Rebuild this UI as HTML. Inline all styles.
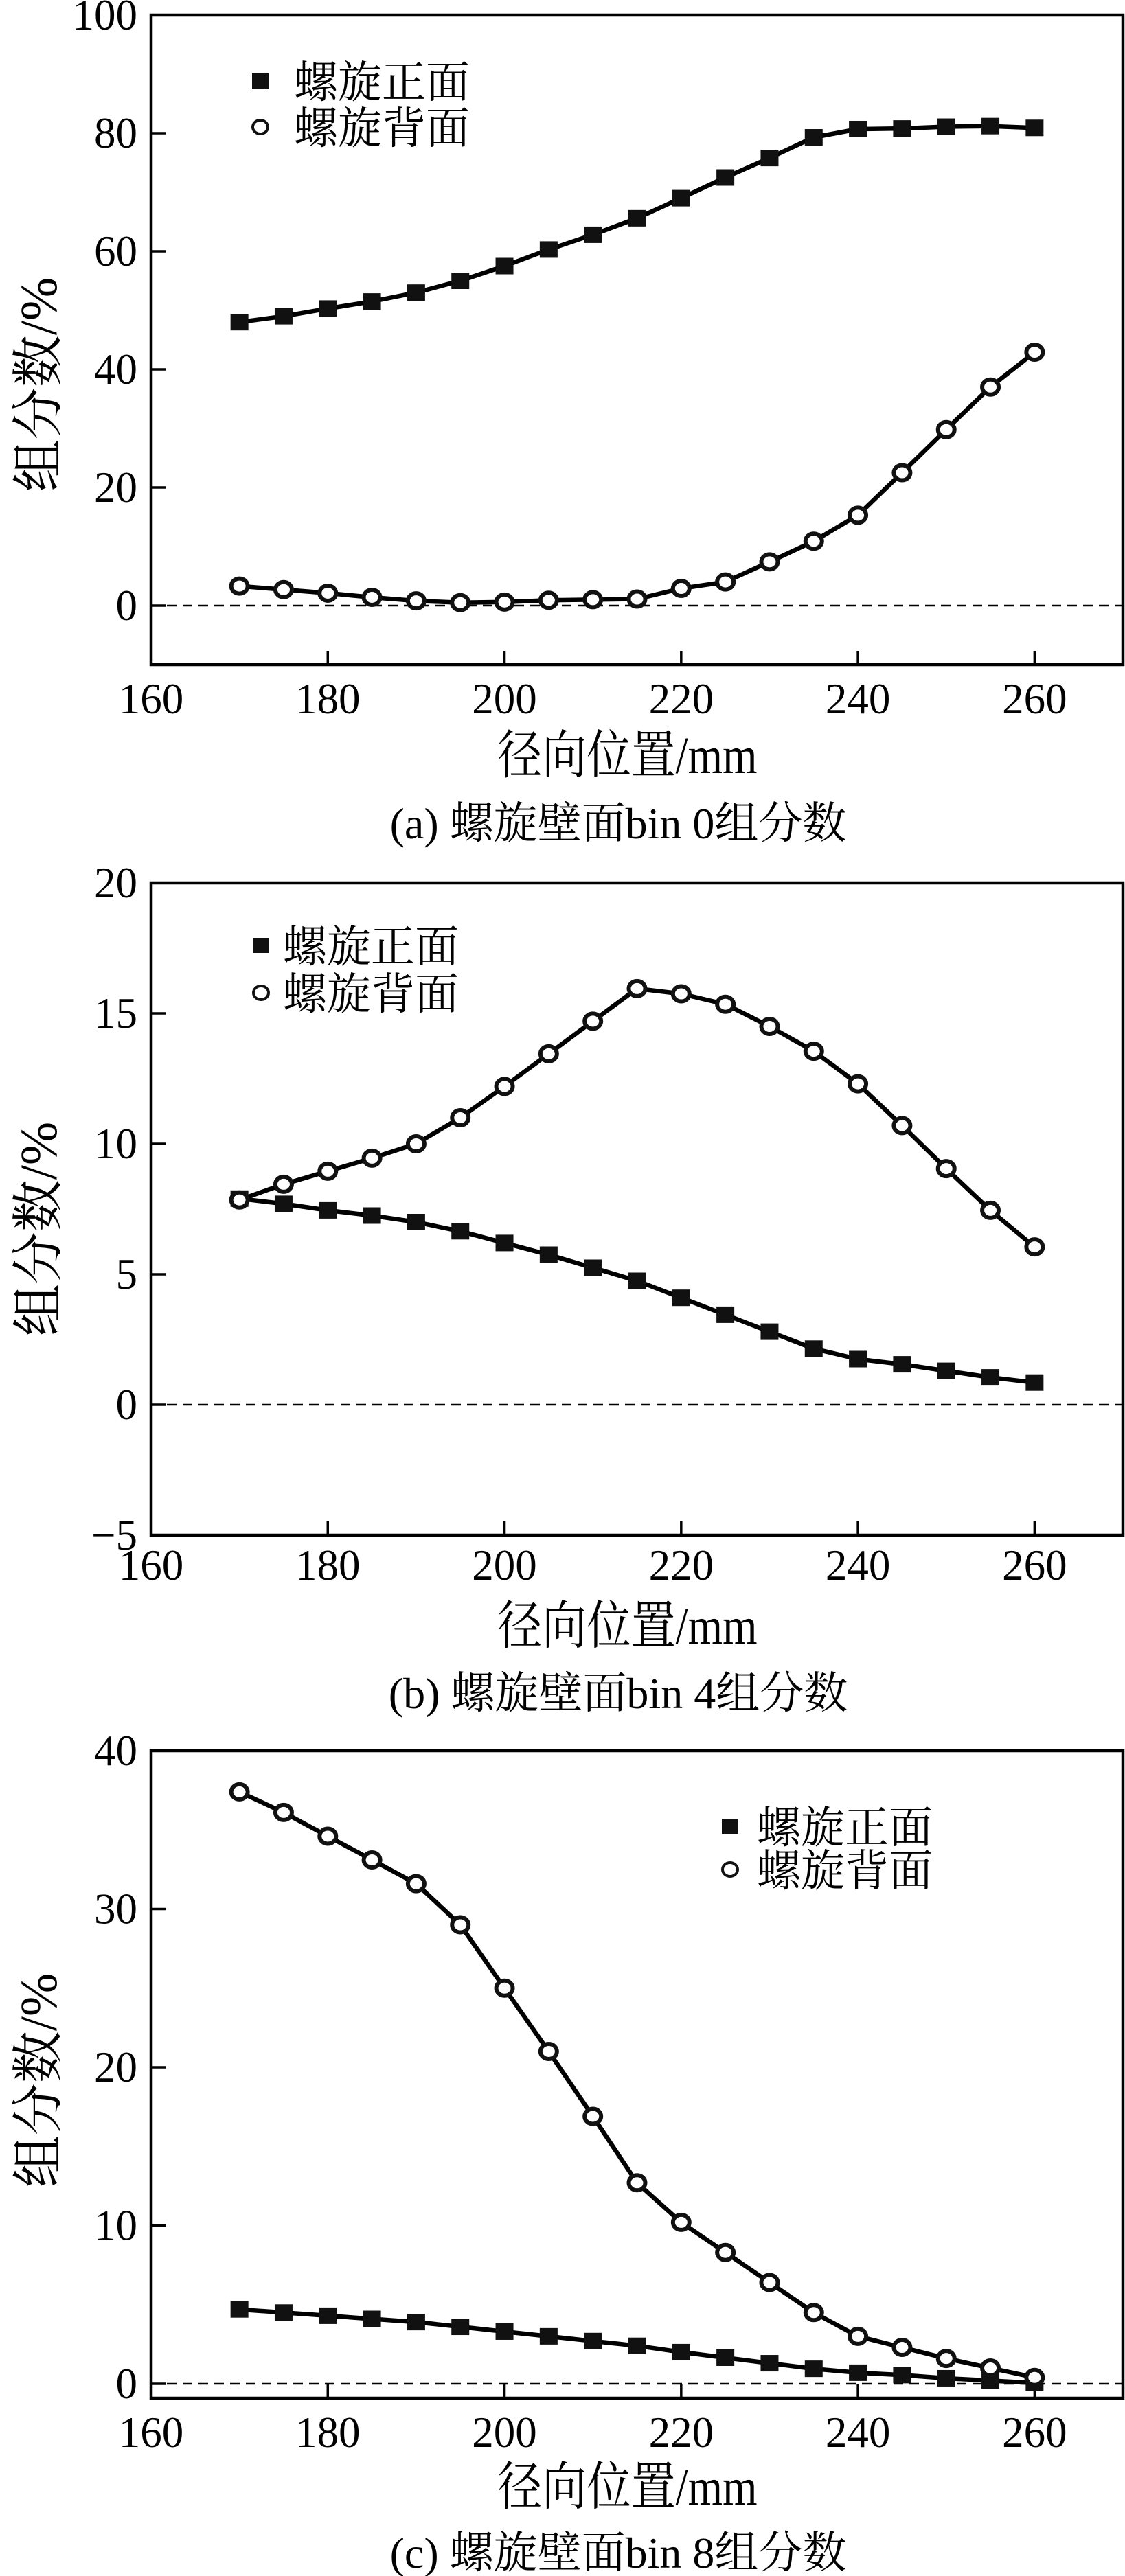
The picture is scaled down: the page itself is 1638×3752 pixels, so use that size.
<!DOCTYPE html>
<html><head><meta charset="utf-8"><style>
html,body{margin:0;padding:0;background:#fff;}
svg{display:block;}
text{font-family:"Liberation Serif","Noto Serif CJK SC","Noto Sans CJK SC",serif;fill:#000;}
</style></head><body>
<svg id="chart" width="1638" height="3752" viewBox="0 0 1638 3752" xmlns="http://www.w3.org/2000/svg"></svg>
<script>
const xCategories = [170,175,180,185,190,195,200,205,210,215,220,225,230,235,240,245,250,255,260];
const xTicks = [160,180,200,220,240,260];
const aFront = [48,49,50.3,51.5,53,55,57.5,60.3,62.8,65.6,69,72.5,75.8,79.3,80.7,80.8,81.1,81.2,80.9];
const aBack = [3.3,2.7,2.1,1.4,0.8,0.5,0.6,0.9,1.0,1.1,2.9,4.0,7.4,10.9,15.3,22.5,29.8,37,42.9];
const aYTicks = [0,20,40,60,80,100];
const bFront = [7.9,7.7,7.45,7.25,7.0,6.65,6.2,5.75,5.25,4.75,4.1,3.45,2.8,2.15,1.75,1.55,1.3,1.05,0.85];
const bBack = [7.85,8.45,8.95,9.45,10.0,11.0,12.2,13.45,14.7,15.95,15.75,15.35,14.5,13.55,12.3,10.7,9.05,7.45,6.05];
const bYTicks = [-5,0,5,10,15,20];
const cFront = [4.7,4.5,4.3,4.1,3.9,3.6,3.3,3.0,2.7,2.4,2.0,1.65,1.3,0.95,0.7,0.55,0.35,0.2,0.05];
const cBack = [37.4,36.1,34.6,33.1,31.6,29.0,25.0,21.0,16.9,12.7,10.2,8.3,6.4,4.5,3.0,2.3,1.6,1.0,0.4];
const cYTicks = [0,10,20,30,40];
const legendFront = "螺旋正面";
const legendBack = "螺旋背面";
const xTitle = "径向位置/mm";
const yTitle = "组分数/%";
const captions = ["(a) 螺旋壁面bin 0组分数","(b) 螺旋壁面bin 4组分数","(c) 螺旋壁面bin 8组分数"];

const NS="http://www.w3.org/2000/svg";
const svg=document.getElementById('chart');
function mk(tag,attrs,parent){const e=document.createElementNS(NS,tag);for(const k in attrs)e.setAttribute(k,attrs[k]);(parent||svg).appendChild(e);return e;}

const panels=[
 {id:'a',top:22,bottom:968,ymin:-10,ymax:100,yt:aYTicks,front:aFront,back:aBack,tickY:1018,titleY:1100,capY:1198,yTitleY:560,leg:{x:379,x2:428,y1:118,y2:185}},
 {id:'b',top:1286,bottom:2236,ymin:-5,ymax:20,yt:bYTicks,front:bFront,back:bBack,tickY:2280,titleY:2368,capY:2465,yTitleY:1790,leg:{x:380,x2:412,y1:1377,y2:1446}},
 {id:'c',top:2550,bottom:3493,ymin:-0.91,ymax:40,yt:cYTicks,front:cFront,back:cBack,tickY:3543,titleY:3622,capY:3717,yTitleY:3030,leg:{x:1063,x2:1102,y1:2660,y2:2723}}
];
const L=220,R=1635;
function xs(v){return L+(v-160)/(270-160)*(R-L);}

panels.forEach((p,pi)=>{
  const g=mk('g',{});
  
  
  const ys=v=>p.bottom-(v-p.ymin)/(p.ymax-p.ymin)*(p.bottom-p.top);
  const z=mk('line',{x1:L,x2:R,y1:ys(0),y2:ys(0),stroke:'#000','stroke-width':2.5,'stroke-dasharray':'14 9'},g);
  
  
  const fr=mk('rect',{x:L,y:p.top,width:R-L,height:p.bottom-p.top,fill:'none',stroke:'#000','stroke-width':4.5},g);
  
  
  p.yt.forEach(v=>{
    const y=ys(v);
    if(v!==p.ymin){const t=mk('line',{x1:L,x2:L+22,y1:y,y2:y,stroke:'#000','stroke-width':3.5},g);
    
    }
    const tx=mk('text',{x:200,y:y+21,'font-size':63,'text-anchor':'end'},g);
    tx.textContent=(v<0?'\u2212'+(-v):String(v));
    
    
  });
  xTicks.forEach(v=>{
    const x=xs(v);
    if(v!==160){const t=mk('line',{x1:x,x2:x,y1:p.bottom,y2:p.bottom-20,stroke:'#000','stroke-width':3.5},g);
    
    }
    const tx=mk('text',{x:x,y:p.tickY+21,'font-size':63,'text-anchor':'middle'},g);
    tx.textContent=String(v);
    
    
  });
  [['front',p.front],['back',p.back]].forEach(([nm,arr])=>{
    const pts=arr.map((v,i)=>xs(xCategories[i]).toFixed(1)+','+ys(v).toFixed(1)).join(' ');
    const pl=mk('polyline',{points:pts,fill:'none',stroke:'#000','stroke-width':6.5,'stroke-linejoin':'round'},g);
    
    
  });
  [['front',p.front],['back',p.back]].forEach(([nm,arr])=>{
    arr.forEach((v,i)=>{
      const x=xs(xCategories[i]),y=ys(v);
      let m;
      if(nm==='front') m=mk('rect',{x:x-13,y:y-12,width:26,height:24,fill:'#111'},g);
      else m=mk('ellipse',{cx:x,cy:y,rx:12,ry:11,fill:'#fff',stroke:'#111','stroke-width':6},g);
      
      
    });
  });
  const lg=mk('g',{},g);
  
  
  const s=mk('rect',{x:p.leg.x-12,y:p.leg.y1-11,width:24,height:22,fill:'#111'},lg);
  
  
  const t1=mk('text',{x:p.leg.x2,y:p.leg.y1+24,'font-size':64},lg);
  t1.textContent=legendFront;
  
  
  const c=mk('ellipse',{cx:p.leg.x,cy:p.leg.y2,rx:11,ry:10,fill:'#fff',stroke:'#111','stroke-width':4},lg);
  
  
  const t2=mk('text',{x:p.leg.x2,y:p.leg.y2+24,'font-size':64},lg);
  t2.textContent=legendBack;
  
  
  const xt=mk('text',{x:(xs(160)+xs(270))/2-14,y:p.titleY+26,'font-size':76,'text-anchor':'middle',textLength:378,lengthAdjust:'spacingAndGlyphs'},g);
  xt.textContent=xTitle;
  
  
  const yt=mk('text',{x:0,y:0,'font-size':76,'text-anchor':'middle',transform:'translate(82,'+p.yTitleY+') rotate(-90)'},g);
  yt.textContent=yTitle;
  
  
  const cp=mk('text',{x:900,y:p.capY+23,'font-size':64,'text-anchor':'middle'},g);
  cp.textContent=captions[pi];
  
  
});
</script>
</body></html>
